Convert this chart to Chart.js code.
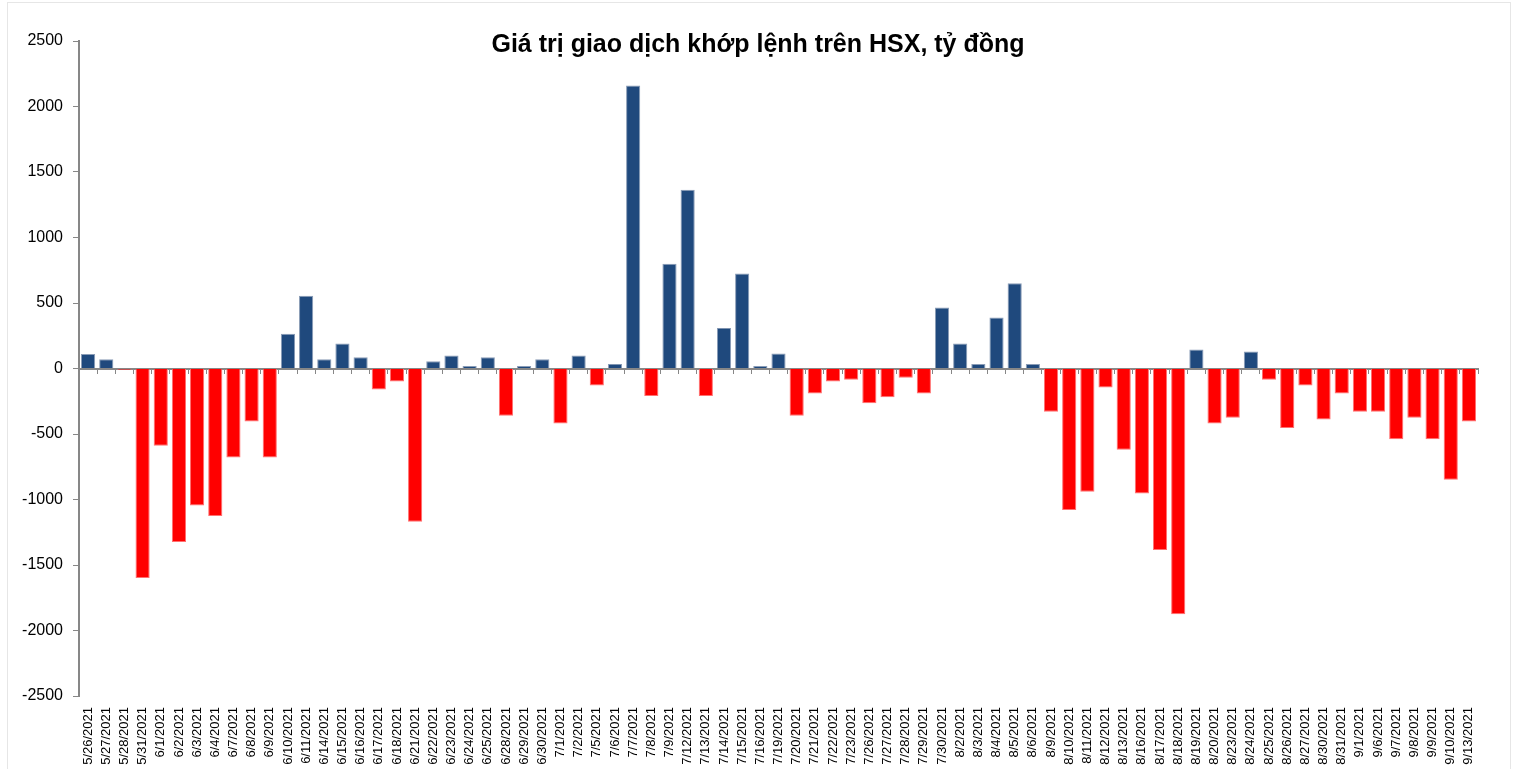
<!DOCTYPE html>
<html lang="vi">
<head>
<meta charset="utf-8">
<title>Giá trị giao dịch khớp lệnh trên HSX, tỷ đồng</title>
<script src="https://cdn.jsdelivr.net/npm/chart.js@4.4.1/dist/chart.umd.min.js"></script>
<style>
    html, body { margin: 0; padding: 0; background: #fff; }
    #wrap { position: relative; width: 1516px; height: 769px; overflow: hidden; }
    #frame {
        position: absolute; left: 7px; top: 2px; width: 1502px; height: 800px;
        border: 1px solid #e6e6e6; pointer-events: none;
    }
</style>
</head>
<body>
<div id="wrap">
    <canvas id="hsxChart" width="1516" height="769"></canvas>
    <div id="frame"></div>
</div>
<script>
const dates = [
    "5/26/2021", "5/27/2021", "5/28/2021", "5/31/2021", "6/1/2021", "6/2/2021", "6/3/2021", "6/4/2021",
    "6/7/2021", "6/8/2021", "6/9/2021", "6/10/2021", "6/11/2021", "6/14/2021", "6/15/2021", "6/16/2021",
    "6/17/2021", "6/18/2021", "6/21/2021", "6/22/2021", "6/23/2021", "6/24/2021", "6/25/2021", "6/28/2021",
    "6/29/2021", "6/30/2021", "7/1/2021", "7/2/2021", "7/5/2021", "7/6/2021", "7/7/2021", "7/8/2021",
    "7/9/2021", "7/12/2021", "7/13/2021", "7/14/2021", "7/15/2021", "7/16/2021", "7/19/2021", "7/20/2021",
    "7/21/2021", "7/22/2021", "7/23/2021", "7/26/2021", "7/27/2021", "7/28/2021", "7/29/2021", "7/30/2021",
    "8/2/2021", "8/3/2021", "8/4/2021", "8/5/2021", "8/6/2021", "8/9/2021", "8/10/2021", "8/11/2021",
    "8/12/2021", "8/13/2021", "8/16/2021", "8/17/2021", "8/18/2021", "8/19/2021", "8/20/2021", "8/23/2021",
    "8/24/2021", "8/25/2021", "8/26/2021", "8/27/2021", "8/30/2021", "8/31/2021", "9/1/2021", "9/6/2021",
    "9/7/2021", "9/8/2021", "9/9/2021", "9/10/2021", "9/13/2021"
];

// tỷ đồng
const values = [
    110, 70, -10, -1600, -590, -1325, -1045, -1125,
    -680, -405, -680, 265, 555, 70, 190, 85,
    -160, -100, -1170, 55, 100, 20, 85, -360,
    20, 70, -420, 100, -130, 35, 2160, -210,
    800, 1365, -210, 310, 725, 20, 115, -360,
    -190, -100, -85, -265, -220, -70, -190, 465,
    190, 35, 390, 650, 35, -330, -1080, -940,
    -145, -620, -955, -1385, -1875, 145, -420, -375,
    130, -85, -455, -130, -390, -190, -330, -330,
    -540, -375, -540, -850, -405
];

const yMin = -2500;
const yMax = 2500;
const yStep = 500;

const titleText = "Giá trị giao dịch khớp lệnh trên HSX, tỷ đồng";

const axisColor = "#878787";
const labelFont = "'Liberation Sans', Arial, sans-serif";

const titlePlugin = {
    id: "insideTitle",
    afterDraw(chart) {
        const { ctx, width } = chart;
        ctx.save();
        ctx.font = "bold 25px " + labelFont;
        ctx.fillStyle = "#000";
        ctx.textAlign = "center";
        ctx.textBaseline = "alphabetic";
        ctx.fillText(titleText, width / 2, 52);
        ctx.restore();
    }
};

new Chart(document.getElementById("hsxChart"), {
    type: "bar",
    data: {
        labels: dates,
        datasets: [{
            data: values,
            backgroundColor: values.map((v) => (v >= 0 ? "#1f497d" : "#ff0000")),
            borderColor: values.map((v) => (v >= 0 ? "#8a9cb6" : "#ff7070")),
            borderWidth: 1,
            categoryPercentage: 1,
            barPercentage: 0.78
        }]
    },
    options: {
        responsive: false,
        animation: false,
        layout: { padding: { top: 41, right: 38, bottom: 0, left: 0 } },
        plugins: {
            legend: { display: false },
            tooltip: { enabled: false }
        },
        scales: {
            x: {
                grid: { display: false, drawTicks: false },
                border: { display: false },
                ticks: {
                    autoSkip: false,
                    minRotation: 90,
                    maxRotation: 90,
                    padding: 11,
                    color: "#000",
                    font: { family: labelFont, size: 13 }
                },
                afterFit: (scale) => { scale.height = 73; }
            },
            zeroAxis: {
                axis: "x",
                type: "category",
                position: { y: 0 },
                grid: { drawOnChartArea: false, tickLength: 4, color: axisColor, lineWidth: 1 },
                border: { color: axisColor, width: 2 },
                ticks: { display: false }
            },
            y: {
                min: yMin,
                max: yMax,
                ticks: {
                    stepSize: yStep,
                    padding: 10,
                    color: "#000",
                    font: { family: labelFont, size: 16 },
                    callback: (value) => String(value)
                },
                grid: { drawOnChartArea: false, tickLength: 6, color: axisColor },
                border: { color: axisColor, width: 2 },
                afterFit: (scale) => { scale.width = 79; }
            }
        }
    },
    plugins: [titlePlugin]
});
</script>
</body>
</html>
